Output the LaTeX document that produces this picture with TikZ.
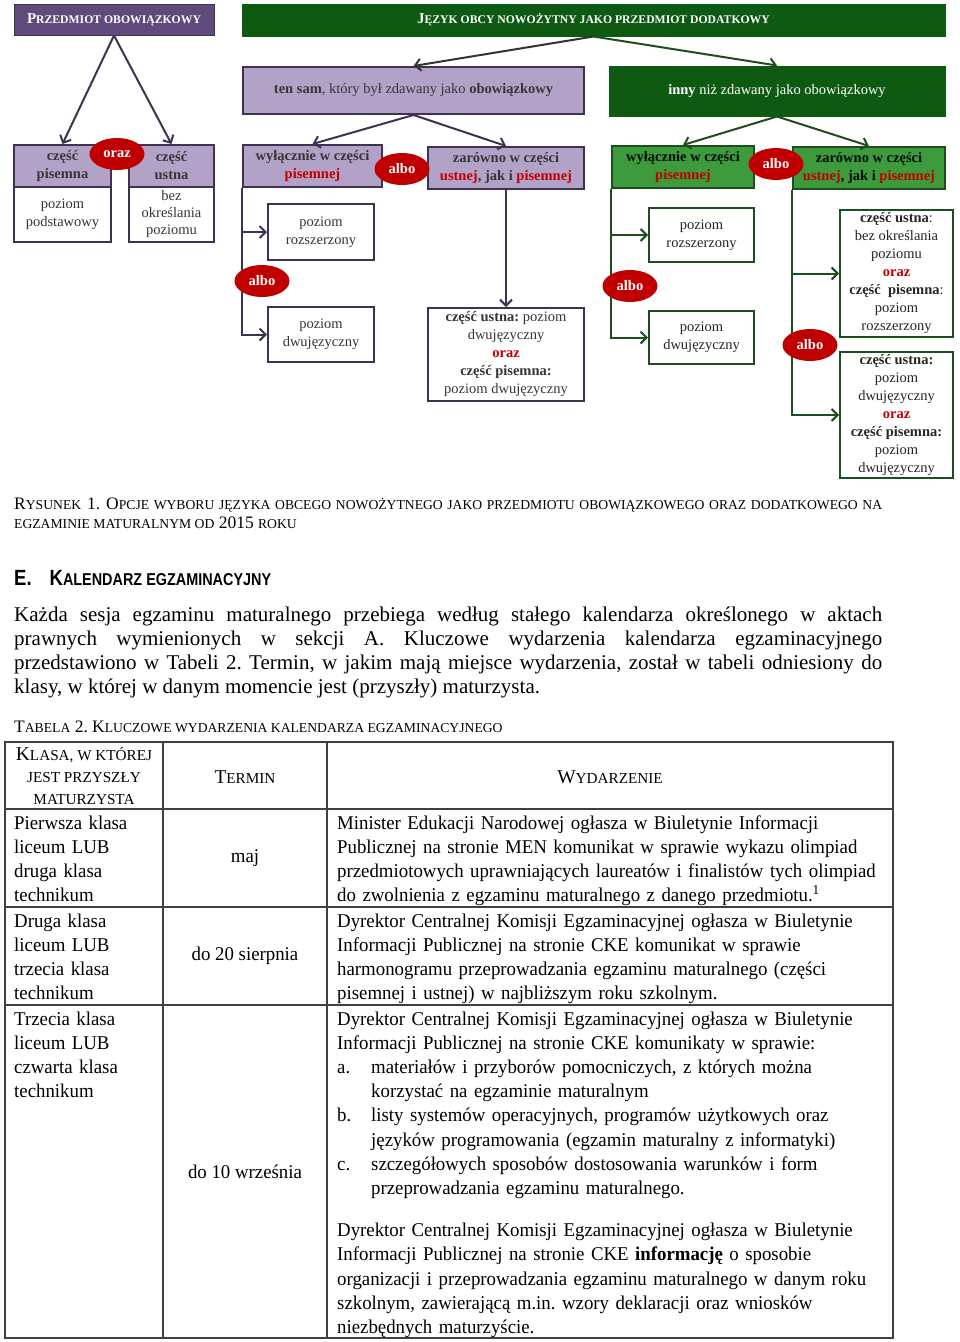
\documentclass[tikz,border=0pt]{standalone}
\usepackage{fontspec}
\usepackage{graphicx}
\setmainfont{Liberation Serif}
\newfontfamily\headfont[FakeStretch=0.84]{Liberation Sans}
\newfontfamily\tabfont[FakeStretch=0.965]{Liberation Serif}
\usetikzlibrary{shapes.geometric,arrows.meta}
\frenchspacing

\definecolor{plum}{HTML}{604A7B}
\definecolor{lilac}{HTML}{B3A2C7}
\definecolor{plumline}{HTML}{3F3151}
\definecolor{forest}{HTML}{0F5A12}
\definecolor{leaf}{HTML}{3D9A3D}
\definecolor{forestline}{HTML}{1E4D1E}
\definecolor{alert}{HTML}{C00000}
\definecolor{ink}{HTML}{363636}
\definecolor{rule}{HTML}{404040}

% small capitals made by hand (the font has none)
\makeatletter
\newcommand\smc[1]{{\@tempdima=\f@size pt\@tempdima=0.78\@tempdima
  \fontsize{\strip@pt\@tempdima}{\f@baselineskip}\selectfont #1}}
\makeatother

\tikzset{
  sz/.style 2 args={minimum width=#1pt, minimum height=#2pt},
  diag/.style={font=\fontsize{14.5}{18}\selectfont, text=ink, align=center, inner sep=0pt},
  ptitle/.style={diag, fill=plum, draw=plumline, line width=1pt, text=white, font=\fontsize{15}{18}\selectfont\bfseries},
  gtitle/.style={diag, fill=forest, draw=forest, line width=1pt, text=white},
  pbox/.style={diag, fill=lilac, draw=plumline, line width=2pt},
  wbox/.style={diag, fill=white, draw=plumline, line width=2pt},
  gbox/.style={diag, fill=leaf, draw=forestline, line width=2pt, text=black!85!forest},
  gwbox/.style={diag, fill=white, draw=forestline, line width=2pt, text=black!85},
  oval/.style={ellipse, fill=alert, text=white, inner sep=0pt, minimum width=55pt,
    minimum height=32pt, font=\fontsize{14.5}{18}\selectfont\bfseries},
  parr/.style={draw=plumline, line width=2pt, -{Straight Barb[length=6pt,width=12pt]}},
  garr/.style={draw=forestline, line width=2pt, -{Straight Barb[length=6pt,width=12pt]}},
  cell/.style={anchor=base west, align=left, inner sep=0pt, font=\tabfont\fontsize{19.5}{24.2}\selectfont},
  thead/.style={align=center, inner sep=0pt, font=\fontsize{19.5}{22}\selectfont},
  tabline/.style={draw=rule, line width=1.4pt}
}

\begin{document}
\begin{tikzpicture}[x=1pt,y=1pt,yscale=-1]
\useasboundingbox (0,0) rectangle (960,1342);
\fill[white] (0,0) rectangle (960,1342);

% obowiazkowy
\node[ptitle, sz={200}{31}] (obow) at (114,19.5) {P\smc{RZEDMIOT OBOWIĄZKOWY}};
\node[pbox, sz={97}{42}, font=\fontsize{14.5}{18}\selectfont\bfseries] (pisemna) at (62.5,166) {część\\pisemna};
\node[wbox, sz={97}{55}] (podst) at (62.5,214.5) {poziom\\podstawowy};
\node[pbox, sz={85}{42}, font=\fontsize{14.5}{18}\selectfont\bfseries] (ustna) at (171.5,166) {część\\ustna};
\node[wbox, sz={85}{55}, font=\fontsize{14.5}{17}\selectfont] (bezpoz) at (171.5,214.5) {bez\\określania\\poziomu};
\draw[parr] (obow.south) -- (pisemna.north);
\draw[parr] (obow.south) -- (ustna.north);

% dodatkowy
\node[gtitle, sz={703}{32}, font=\fontsize{15}{18}\selectfont\bfseries] (dodat) at (593.5,20) {J\smc{ĘZYK OBCY NOWOŻYTNY JAKO PRZEDMIOT DODATKOWY}};
\node[pbox, sz={341}{47}] (tensam) at (413.5,90.5) {\textbf{ten sam}, który był zdawany jako \textbf{obowiązkowy}};
\node[gtitle, sz={336}{50}] (inny) at (777,91) {\textbf{inny} niż zdawany jako obowiązkowy};
\draw[parr, draw=black!80] (dodat.south) -- (tensam.north);
\draw[garr] (dodat.south) -- (inny.north);

% ten sam
\node[pbox, sz={139}{42}] (wylP) at (312.5,166) {\textbf{wyłącznie w części}\\\textbf{\color{alert}pisemnej}};
\node[pbox, sz={156}{42}] (zarP) at (506,168) {\textbf{zarówno w części}\\\textbf{{\color{alert}ustnej}, jak i {\color{alert}pisemnej}}};
\draw[parr] (tensam.south) -- (wylP.north);
\draw[parr] (tensam.south) -- (zarP.north);
\node[wbox, sz={106}{56}] (rozP) at (321,232) {poziom\\rozszerzony};
\node[wbox, sz={106}{55}] (dwuP) at (321,334.5) {poziom\\dwujęzyczny};
\draw[parr] (wylP.south west) |- (rozP.west);
\draw[parr] (wylP.south west) |- (dwuP.west);
\node[wbox, sz={156}{93}] (obaP) at (506,354.5) {\textbf{część ustna:} poziom\\dwujęzyczny\\\textbf{\color{alert}oraz}\\\textbf{część pisemna:}\\poziom dwujęzyczny};
\draw[parr] (zarP.south) -- (obaP.north);

% inny
\node[gbox, sz={142}{42}] (wylG) at (683,167) {\textbf{wyłącznie w części}\\\textbf{\color{alert}pisemnej}};
\node[gbox, sz={152}{42}] (zarG) at (869,168) {\textbf{zarówno w części}\\\textbf{{\color{alert}ustnej}, jak i {\color{alert}pisemnej}}};
\draw[garr] (inny.south) -- (wylG.north);
\draw[garr] (inny.south) -- (zarG.north);
\node[gwbox, sz={105}{54}] (rozG) at (701.5,235) {poziom\\rozszerzony};
\node[gwbox, sz={105}{53}] (dwuG) at (701.5,337.5) {poziom\\dwujęzyczny};
\draw[garr] (wylG.south west) |- (rozG.west);
\draw[garr] (wylG.south west) |- (dwuG.west);
\node[gwbox, sz={113}{127}] (ustRoz) at (896.5,273.5) {\textbf{część ustna}:\\bez określania\\poziomu\\\textbf{\color{alert}oraz}\\\textbf{część\ \ pisemna}:\\poziom\\rozszerzony};
\node[gwbox, sz={113}{126}] (ustDwu) at (896.5,415) {\textbf{część ustna:}\\poziom\\dwujęzyczny\\\textbf{\color{alert}oraz}\\\textbf{część pisemna:}\\poziom\\dwujęzyczny};
\draw[garr] (zarG.south west) |- (ustRoz.west);
\draw[garr] (zarG.south west) |- (ustDwu.west);

% ovals on top
\node[oval] (oraz) at (117,154) {oraz};
\node[oval] (alboA) at (402,169) {albo};
\node[oval] (alboB) at (262,281) {albo};
\node[oval] (alboC) at (776,164) {albo};
\node[oval] (alboD) at (630,286) {albo};
\node[oval] (alboE) at (810,345) {albo};

% caption and text
\node[anchor=base west, inner sep=0pt, text width=868pt, align=justify, font=\fontsize{17.5}{19.5}\selectfont] (rys) at (14,509)
  {\noindent R\smc{YSUNEK} 1. O\smc{PCJE WYBORU JĘZYKA OBCEGO NOWOŻYTNEGO JAKO PRZEDMIOTU OBOWIĄZKOWEGO ORAZ DODATKOWEGO NA}\linebreak
   \smc{EGZAMINIE MATURALNYM OD} 2015 \smc{ROKU}};
\node[anchor=base west, inner sep=0pt, font=\headfont\fontsize{22}{24}\selectfont\bfseries] (sekcja) at (14,585)
  {E.\hspace{18pt}K\smc{ALENDARZ EGZAMINACYJNY}};
\node[anchor=base west, inner sep=0pt, text width=868pt, align=justify, font=\fontsize{21}{24}\selectfont] (akapit) at (14,621)
  {\noindent Każda sesja egzaminu maturalnego przebiega według stałego kalendarza określonego w~aktach\linebreak
   prawnych wymienionych w sekcji A. Kluczowe wydarzenia kalendarza egzaminacyjnego\linebreak
   przedstawiono w Tabeli 2. Termin, w jakim mają miejsce wydarzenia, został w tabeli odniesiony do\linebreak
   klasy, w której w danym momencie jest (przyszły) maturzysta.};
\node[anchor=base west, inner sep=0pt, font=\fontsize{17.5}{19.5}\selectfont] (tab) at (14,732)
  {T\smc{ABELA} 2. K\smc{LUCZOWE WYDARZENIA KALENDARZA EGZAMINACYJNEGO}};

% table
\draw[tabline] (5,742) rectangle (893,1338);
\draw[tabline] (163,742) -- (163,1338);
\draw[tabline] (327,742) -- (327,1338);
\draw[tabline] (5,809) -- (893,809);
\draw[tabline] (5,907) -- (893,907);
\draw[tabline] (5,1005) -- (893,1005);

\node[thead] (hklasa) at (84,776) {K\smc{LASA, W KTÓREJ}\\\smc{JEST PRZYSZŁY}\\\smc{MATURZYSTA}};
\node[thead] (htermin) at (245,777) {T\smc{ERMIN}};
\node[thead] (hwyd) at (610,777) {W\smc{YDARZENIE}};

\node[cell, text width=148pt] (k1) at (14,829) {Pierwsza klasa\\liceum LUB\\druga klasa\\technikum};
\node[cell, text width=148pt] (k2) at (14,927) {Druga klasa\\liceum LUB\\trzecia klasa\\technikum};
\node[cell, text width=148pt] (k3) at (14,1025) {Trzecia klasa\\liceum LUB\\czwarta klasa\\technikum};

\node[font=\tabfont\fontsize{19.5}{24}\selectfont, inner sep=0pt] (t1) at (245,858) {maj};
\node[font=\tabfont\fontsize{19.5}{24}\selectfont, inner sep=0pt] (t2) at (245,956) {do 20 sierpnia};
\node[font=\tabfont\fontsize{19.5}{24}\selectfont, inner sep=0pt] (t3) at (245,1172) {do 10 września};

\node[cell, text width=600pt] (w1) at (337,829)
  {Minister Edukacji Narodowej ogłasza w Biuletynie Informacji\\
   Publicznej na stronie MEN komunikat w sprawie wykazu olimpiad\\
   przedmiotowych uprawniających laureatów i finalistów tych olimpiad\\
   do zwolnienia z egzaminu maturalnego z danego przedmiotu.\textsuperscript{1}};
\node[cell, text width=600pt] (w2) at (337,927)
  {Dyrektor Centralnej Komisji Egzaminacyjnej ogłasza w Biuletynie\\
   Informacji Publicznej na stronie CKE komunikat w sprawie\\
   harmonogramu przeprowadzania egzaminu maturalnego (części\\
   pisemnej i ustnej) w najbliższym roku szkolnym.};
\node[cell, text width=600pt] (w3) at (337,1025)
  {Dyrektor Centralnej Komisji Egzaminacyjnej ogłasza w Biuletynie\\
   Informacji Publicznej na stronie CKE komunikaty w sprawie:\\
   \makebox[34pt][l]{a.}materiałów i przyborów pomocniczych, z których można\\
   \hspace*{34pt}korzystać na egzaminie maturalnym\\
   \makebox[34pt][l]{b.}listy systemów operacyjnych, programów użytkowych oraz\\
   \hspace*{34pt}języków programowania (egzamin maturalny z informatyki)\\
   \makebox[34pt][l]{c.}szczegółowych sposobów dostosowania warunków i form\\
   \hspace*{34pt}przeprowadzania egzaminu maturalnego.\\[18pt]
   Dyrektor Centralnej Komisji Egzaminacyjnej ogłasza w Biuletynie\\
   Informacji Publicznej na stronie CKE \textbf{informację} o sposobie\\
   organizacji i przeprowadzania egzaminu maturalnego w danym roku\\
   szkolnym, zawierającą m.in. wzory deklaracji oraz wniosków\\
   niezbędnych maturzyście.};
\end{tikzpicture}
\end{document}
